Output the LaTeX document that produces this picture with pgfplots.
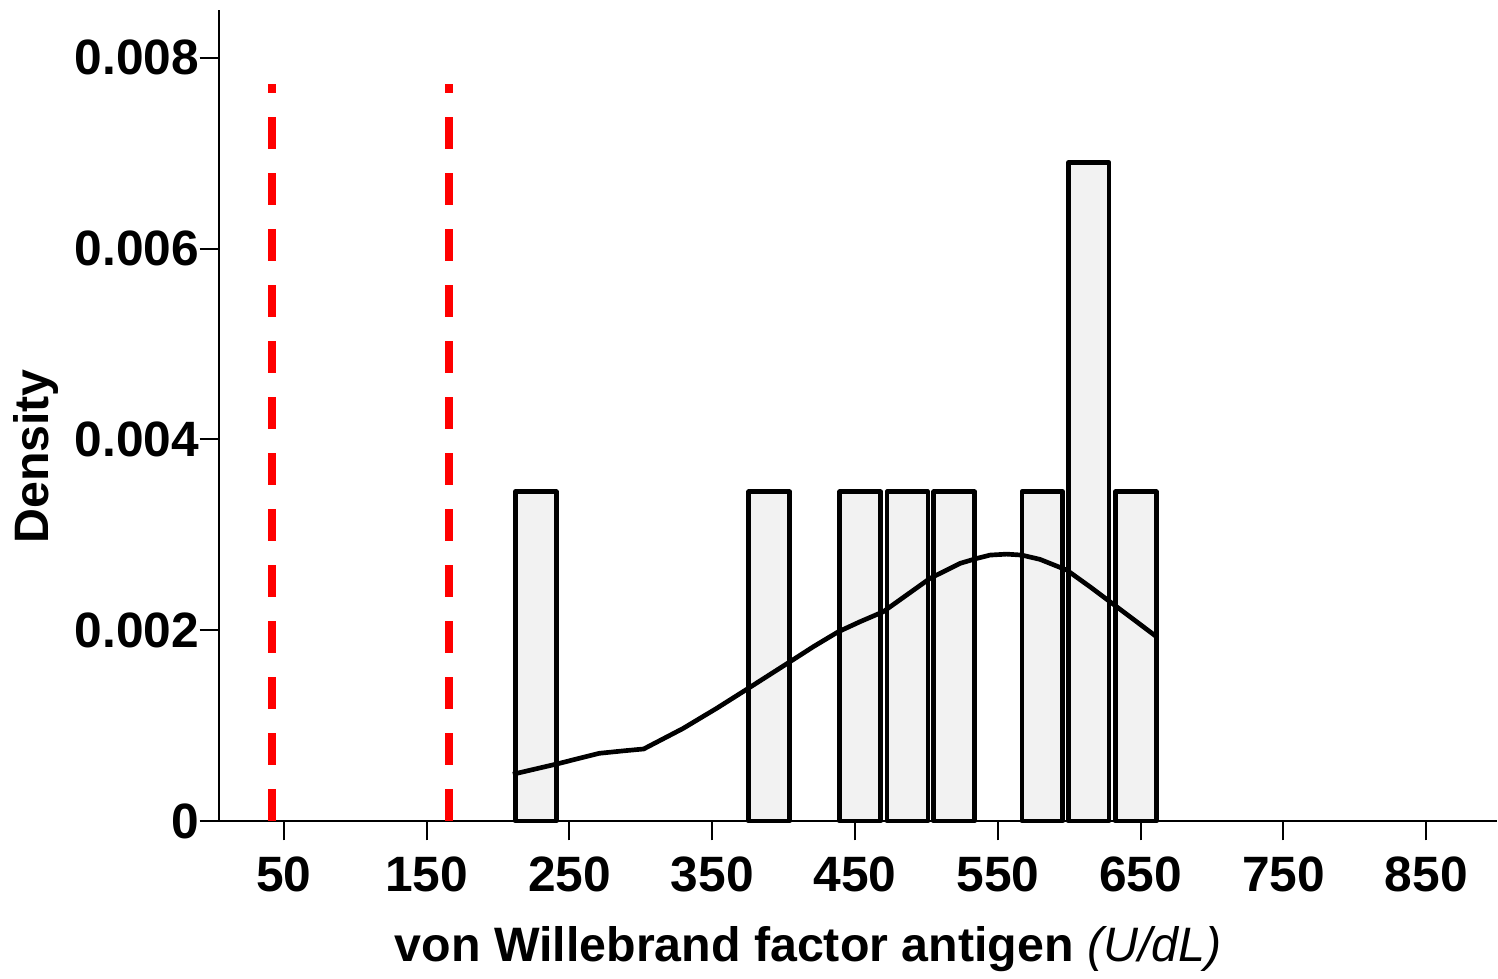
\documentclass[border=0pt]{standalone}
\usepackage{pgfplots}
\pgfplotsset{compat=1.18}
\usepackage{fontspec}
\setmainfont{Liberation Sans}
\definecolor{barfill}{HTML}{F2F2F2}
\begin{document}
\begin{tikzpicture}
\useasboundingbox (-65.7pt,-47.4pt) rectangle (383.7pt,246.3pt);
\begin{axis}[
  anchor=south west, at={(0,0)},
  scale only axis,
  width=383.4pt, height=243.3pt,
  xmin=4.6, xmax=899.5, ymin=0, ymax=0.0085,
  axis x line=bottom, axis y line=left,
  axis line style={line width=0.6pt, -},
  tick align=outside, tick style={line width=0.6pt, black},
  major tick length=5.8pt,
  xtick={50,150,250,350,450,550,650,750,850},
  xticklabels={50,150,250,350,450,550,650,750,850},
  ytick={0,0.002,0.004,0.006,0.008},
  yticklabels={0,0.002,0.004,0.006,0.008},
  scaled y ticks=false,
  ticklabel style={font=\fontsize{14.9}{17}\selectfont\bfseries, inner sep=0pt},
  xticklabel style={anchor=north, yshift=-4.8pt},
  yticklabel style={anchor=east},
  xlabel={\bfseries von Willebrand factor antigen \mdseries\itshape (U/dL)},
  ylabel={\bfseries Density},
  label style={font=\fontsize{14.5}{17}\selectfont, inner sep=0pt},
  xlabel style={at={(axis description cs:0.4609,-0.1578)}, anchor=center},
  ylabel style={at={(axis description cs:-0.1435,0.4495)}, anchor=center},
  clip=false,
]
\addplot[ybar, bar shift=0pt, bar width=28.6, fill=barfill, draw=black, line width=1.4pt, line join=round]
  coordinates {(226.4,0.00345) (389.8,0.00345) (453.6,0.00345) (486.7,0.00345) (519.4,0.00345) (581.1,0.00345) (613.6,0.0069) (646.6,0.00345)};
\addplot[black, line width=1.4pt, line join=round, mark=none] coordinates {
(210.4,0.00049) (241.0,0.000597) (270.7,0.000709) (287.7,0.000735) (302,0.000755)
(329.7,0.000971) (353.1,0.001181) (375.2,0.00139) (404.4,0.001669) (420.7,0.001826)
(438.2,0.001983) (453.4,0.002088) (469.7,0.002193) (486.1,0.002368) (502.5,0.002543)
(523.5,0.0027) (535.2,0.002752) (544.5,0.002787) (556.2,0.002797) (566.7,0.002787)
(579.5,0.002742) (598.2,0.00263) (614.5,0.002455) (628.5,0.002298) (647.2,0.002088) (661.2,0.00193)};
\addplot[red, line width=2.4pt, dash pattern=on 9.6pt off 7.2pt, mark=none] coordinates {(41.5,0) (41.5,0.00772)};
\addplot[red, line width=2.4pt, dash pattern=on 9.6pt off 7.2pt, mark=none] coordinates {(165.8,0) (165.8,0.00772)};
\end{axis}
\end{tikzpicture}
\end{document}
